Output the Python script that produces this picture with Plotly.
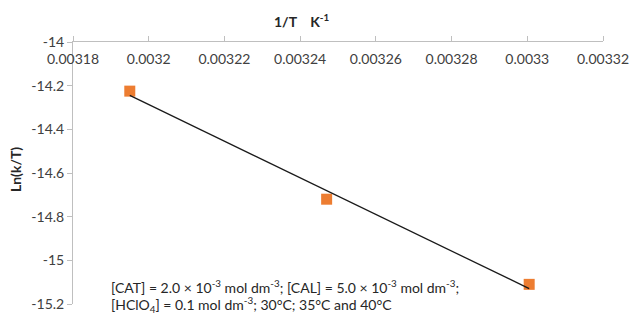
import numpy as np
import plotly.graph_objects as go

# Data
inv_T = [0.003195, 0.003247, 0.0033005]
ln_kT = [-14.225, -14.72, -15.11]

x_tickvals = [0.00318, 0.00320, 0.00322, 0.00324, 0.00326, 0.00328, 0.00330, 0.00332]
x_ticktext = ["0.00318", "0.0032", "0.00322", "0.00324", "0.00326", "0.00328", "0.0033", "0.00332"]
y_tickvals = [-14.0, -14.2, -14.4, -14.6, -14.8, -15.0, -15.2]
y_ticktext = ["-14", "-14.2", "-14.4", "-14.6", "-14.8", "-15", "-15.2"]

# Linear trendline fitted to the data
slope, intercept = np.polyfit(inv_T, ln_kT, 1)
trend_x = [min(inv_T), max(inv_T)]
trend_y = [slope * v + intercept for v in trend_x]

W, H = 639, 322
L, R, T, B = 73, 27, 42, 10
PW, PH = W - L - R, H - T - B

def px(x):
    return (x - L) / PW

def py(y):
    return (H - B - y) / PH

FONT = "Lato, 'Open Sans', sans-serif"
TXT = "#404040"
XRANGE = [0.00318, 0.00332]

fig = go.Figure()
fig.add_trace(go.Scatter(
    x=inv_T, y=ln_kT, mode="markers",
    marker=dict(symbol="square", size=11, color="#ED7D31", line=dict(width=0)),
    showlegend=False, cliponaxis=False,
))
fig.add_trace(go.Scatter(
    x=trend_x, y=trend_y, mode="lines",
    line=dict(color="#1a1a1a", width=1.3),
    showlegend=False, cliponaxis=False,
))
# invisible trace to carry the tick-label axis
fig.add_trace(go.Scatter(
    x=XRANGE, y=[-14.0, -14.0], xaxis="x2", mode="markers",
    marker=dict(opacity=0), hoverinfo="skip", showlegend=False,
))

fig.update_layout(
    width=W, height=H,
    margin=dict(l=L, r=R, t=T, b=B, pad=0),
    paper_bgcolor="white", plot_bgcolor="white",
    xaxis=dict(range=XRANGE, side="top", tickvals=x_tickvals, showticklabels=False,
               showgrid=False, zeroline=False, showline=True, linecolor="#BFBFBF", linewidth=1,
               ticks="outside", ticklen=5, tickcolor="#BFBFBF", tickwidth=1),
    xaxis2=dict(range=XRANGE, overlaying="x", anchor="free", position=py(68), side="top",
                tickvals=x_tickvals, ticktext=x_ticktext, showgrid=False, zeroline=False,
                showline=False, ticks="", tickfont=dict(family=FONT, size=14, color=TXT)),
    yaxis=dict(range=[-15.2, -14.0], tickvals=y_tickvals, ticktext=y_ticktext,
               showgrid=False, zeroline=False, showline=True, linecolor="#BFBFBF", linewidth=1,
               ticks="outside", ticklen=5, tickcolor="#BFBFBF", tickwidth=1,
               tickfont=dict(family=FONT, size=14, color=TXT)),
    annotations=[
        dict(text="<b>1/T\u00a0\u00a0\u00a0\u00a0K<sup>-1</sup></b>", xref="paper", yref="paper",
             x=px(275), y=py(20), xanchor="left", yanchor="middle", showarrow=False,
             font=dict(family=FONT, size=14, color="#262626")),
        dict(text="<b>Ln(k/T)</b>", xref="paper", yref="paper", textangle=-90,
             x=px(14), y=py(173), xanchor="center", yanchor="middle", showarrow=False,
             font=dict(family=FONT, size=14, color="#262626")),
        dict(text="[CAT] = 2.0 × 10<sup>-3</sup> mol dm<sup>-3</sup>; [CAL] = 5.0 × 10<sup>-3</sup> mol dm<sup>-3</sup>;",
             xref="paper", yref="paper", x=px(110), y=py(294), xanchor="left", yanchor="middle",
             showarrow=False, font=dict(family=FONT, size=14, color="#262626")),
        dict(text="[HClO<sub>4</sub>] = 0.1 mol dm<sup>-3</sup>; 30°C; 35°C and 40°C",
             xref="paper", yref="paper", x=px(110), y=py(313), xanchor="left", yanchor="middle",
             showarrow=False, font=dict(family=FONT, size=14, color="#262626")),
    ],
)

fig.write_html("out.html")
